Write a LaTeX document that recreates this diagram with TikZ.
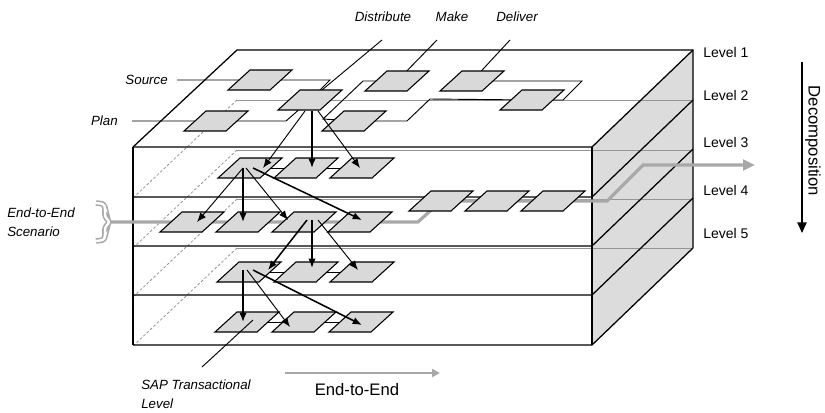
\documentclass[tikz,border=0pt]{standalone}
\usepackage{fontspec}
\setmainfont{Liberation Sans}
\usetikzlibrary{arrows.meta, calc}
\pgfdeclarelayer{back}
\pgfsetlayers{back,main}
\definecolor{boxgray}{HTML}{D9D9D9}
\definecolor{sidegray}{HTML}{DCDCDC}
\definecolor{flowgray}{HTML}{A8A8A8}
\definecolor{backgray}{HTML}{959595}

\begin{document}
\begin{tikzpicture}[x=0.75pt, y=-0.75pt,
        proc/.style = {draw, line width=0.8pt, fill=boxgray, xslant=1.1, minimum width=31.5pt, minimum height=15pt, inner sep=0pt},
        namelbl/.style = {font=\fontsize{10}{14.5}\selectfont\itshape, inner sep=0pt},
        lvl/.style = {font=\fontsize{10.5}{12}\selectfont, anchor=west, inner sep=0pt},
        bigtext/.style = {font=\fontsize{12.5}{15}\selectfont, inner sep=0pt},
        edgeline/.style = {line width=0.95pt},
        backedge/.style = {backgray, line width=0.7pt},
        hiddenedge/.style = {backgray, line width=0.6pt, dash pattern=on 2pt off 1.5pt},
        lane/.style = {line width=0.7pt},
        arr/.style = {-{Latex[length=7pt, width=5.5pt]}, line width=0.7pt},
        arrb/.style = {arr, line width=1.15pt},
        e2e/.style = {flowgray, line width=2.4pt, -{Triangle[length=9pt, width=8pt]}},
        scenbrace/.style = {draw=flowgray, line width=1.2pt, double=white, double distance=1.8pt, rounded corners=2pt}]
    \useasboundingbox (0,0) rectangle (825,412);

    % level 1
    \node[proc] (S1) at (260,80) {};
    \node[proc] (P1) at (216,121) {};
    \node[proc] (C1) at (310,100) {};
    \node[proc] (M1) at (397,81) {};
    \node[proc] (D1) at (472,81) {};
    \node[proc] (Q1) at (354,121) {};
    \node[proc] (R1) at (532,100) {};
    % level 3
    \node[proc] (A3) at (250,168) {};
    \node[proc] (B3) at (306,168) {};
    \node[proc] (C3) at (362,168) {};
    % level 4
    \node[proc] (A4) at (192,222) {};
    \node[proc] (B4) at (248,222) {};
    \node[proc] (C4) at (304,222) {};
    \node[proc] (D4) at (360,222) {};
    \node[proc] (E4) at (441,201) {};
    \node[proc] (F4) at (497,201) {};
    \node[proc] (G4) at (553,201) {};
    % level 5
    \node[proc] (A5) at (249,272) {};
    \node[proc] (B5) at (306,272) {};
    \node[proc] (C5) at (362,272) {};
    % transactional level
    \node[proc] (A6) at (247,322) {};
    \node[proc] (B6) at (304,322) {};
    \node[proc] (C6) at (361,322) {};

    % labels
    \node[namelbl, anchor=east] (lSource) at (168,80) {Source};
    \node[namelbl, anchor=east] (lPlan) at (118,121) {Plan};
    \node[namelbl] (lDist) at (383,17) {Distribute};
    \node[namelbl] (lMake) at (452,17) {Make};
    \node[namelbl] (lDeliv) at (517,17) {Deliver};
    \node[namelbl, align=left, anchor=west] (lScen) at (7,222) {End-to-End\\Scenario};
    \node[namelbl, align=left, anchor=west] (lSAP) at (141,394) {SAP Transactional\\Level};
    \node[bigtext] (lE2E) at (357,390) {End-to-End};
    \node[bigtext, rotate=-90] (lDecomp) at (813,141) {Decomposition};
    \node[lvl] (L1) at (703,52) {Level 1};
    \node[lvl] (L2) at (703,95) {Level 2};
    \node[lvl] (L3) at (703,142) {Level 3};
    \node[lvl] (L4) at (703,190) {Level 4};
    \node[lvl] (L5) at (703,233) {Level 5};

    \coordinate (tDist) at (382,40);
    \coordinate (tMake) at (437,40);
    \coordinate (tDeliv) at (510,40);
    \coordinate (tSAP) at (202,367);
    \coordinate (brTip) at (110,222);
    \coordinate (decTop) at (802,62);
    \coordinate (decBot) at (802,233);
    \coordinate (eeL) at (285,373);
    \coordinate (eeR) at (440,373);

    \begin{pgfonlayer}{back}
        % the block of levels
        \fill[sidegray] (592,147) -- (693,50) -- (693,248) -- (592,345) -- cycle;
        \foreach \y in {100,150,199,248} {
            \draw[backedge] (237,\y) -- (693,\y);
            \draw[hiddenedge] (237,\y) -- ++(-103,97);
        }
        \foreach \y in {147,197,246,295,345}
            \draw[edgeline] (133,\y) -- (592,\y) -- ++(101,-97);
        \draw[edgeline] (133,147) -- (237,50) -- (693,50) -- (693,248);
        \draw[edgeline] (133,147) -- (133,345);
        \draw[edgeline] (592,147) -- (592,345);

        % process lanes on level 1
        \draw[lane] (lSource.east) ++(9,0) -- (S1.center) -- ++(70,0) -- (C1.center);
        \draw[lane] (lPlan.east) ++(14,0) -- (P1.center) -- ++(70,0) -- (C1.center);
        \draw[lane] (tDist) -- (C1.center);
        \draw[lane] (tMake) -- (M1.center);
        \draw[lane] (tDeliv) -- (D1.center);
        \draw[lane] (M1.center) -- ++(-34,0) -- ++(-40,38) -- (Q1.center);
        \draw[lane] (Q1.center) -- ++(53,0) -- ++(23,-22) -- (R1.center);
        \draw[lane] (D1.center) -- ++(110,0) -- ++(-19,19) -- (R1.center);

        % rows
        \draw[lane] (A3.center) -- (C3.center);
        \draw[lane] (A5.center) -- (C5.center);
        \draw[lane] (A6.center) -- (C6.center);

        % end-to-end scenario
        \draw[scenbrace] (96,203) -- (104,204) -- (105,208) -- (105,217) -- (110,222) -- (105,227) -- (105,236) -- (104,240) -- (96,241);
        \draw[e2e] (brTip) -- (D4.center) -- ++(58,0) -- (E4.center) -- (G4.center) -- ++(54,0) -- ++(36,-36) -- ++(112,0);
    \end{pgfonlayer}

    % decomposition arrows
    \draw[arr] ($(C1)+(-5,11)$) -- ($(A3)+(13,0)$);
    \draw[arrb] ($(C1)+(2,11)$) -- ($(B3)+(6,0)$);
    \draw[arr] ($(C1)+(8,11)$) -- ($(C3)+(-2,0)$);

    \draw[arr] ($(A3)+(-7,0)$) -- ($(A4)+(5,0)$);
    \draw[arrb] ($(A3)+(-7,0)$) -- ($(B4)+(-5,0)$);
    \draw[arr] ($(A3)+(-4,0)$) -- ($(C4)+(-16,-2)$);
    \draw[arrb] ($(A3)+(3,0)$) -- ($(D4)+(2,-2)$);

    \draw[arrb] ($(C4)+(3,-2)$) -- ($(A5)+(19,-2)$);
    \draw[arrb] ($(C4)+(8,-2)$) -- ($(B5)+(6,-4)$);
    \draw[arr] ($(C4)+(14,-2)$) -- ($(C5)+(-4,-2)$);

    \draw[arrb] ($(A5)+(-6,-2)$) -- ($(A6)+(-4,0)$);
    \draw[arr] ($(A5)+(-2,-2)$) -- ($(B6)+(-14,5)$);
    \draw[arrb] ($(A5)+(4,-2)$) -- ($(C6)+(1,3)$);

    \draw[lane] (tSAP) -- ($(A6)+(6,-2)$);

    \draw[-{Triangle[length=8pt, width=7pt]}, line width=1pt] (decTop) -- (decBot);
    \draw[flowgray, line width=1.6pt, -{Triangle[length=6pt, width=6pt]}] (eeL) -- (eeR);
\end{tikzpicture}
\end{document}
